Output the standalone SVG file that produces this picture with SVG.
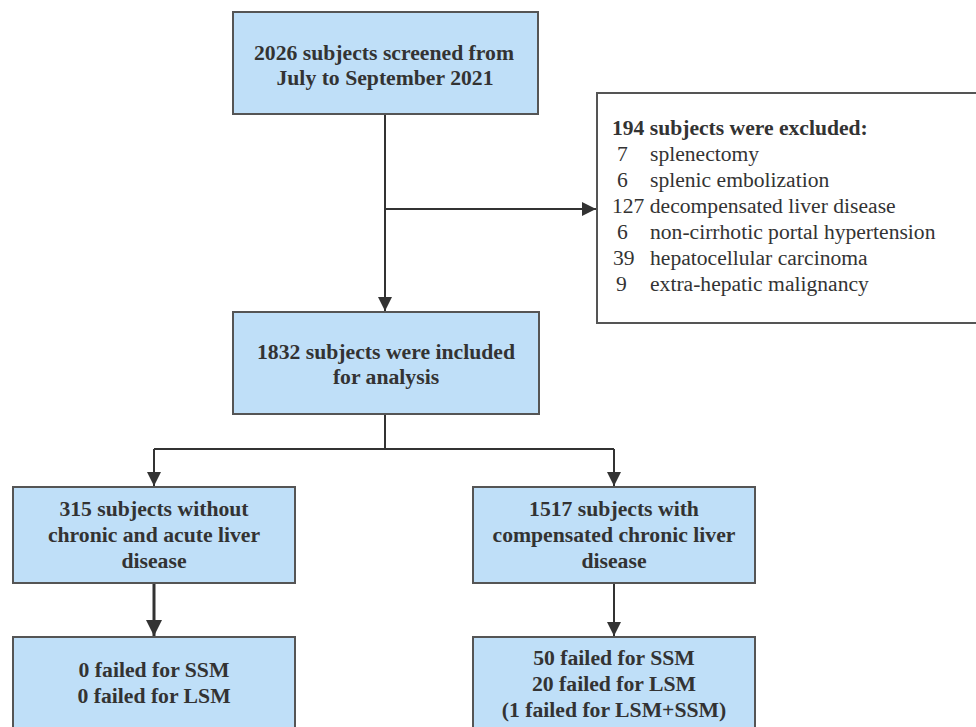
<svg xmlns="http://www.w3.org/2000/svg" width="976" height="727" viewBox="0 0 976 727">
<style>
.box{fill:#bfdff8;stroke:#555;stroke-width:2}
.ex{fill:#fff;stroke:#555;stroke-width:2}
.t{font-family:'Liberation Serif','Times New Roman',serif;font-weight:bold;font-size:21.7px;fill:#333;text-anchor:middle}
.e{font-family:'Liberation Serif','Times New Roman',serif;font-size:21.6px;fill:#333}
.c{fill:none;stroke:#333;stroke-width:2}
</style>
<defs>
<marker id="ah" markerUnits="userSpaceOnUse" markerWidth="14" markerHeight="16" refX="14" refY="7" orient="auto">
<path d="M0,0 L14,7 L0,14 Z" fill="#333"/>
</marker>
<marker id="ah2" markerUnits="userSpaceOnUse" markerWidth="16" markerHeight="18" refX="16" refY="8" orient="auto">
<path d="M0,0 L16,8 L0,16 Z" fill="#333"/>
</marker>
</defs>
<rect width="976" height="727" fill="#fff"/>
<g id="connectors">
<path class="c" d="M385,114 V311" marker-end="url(#ah)"/>
<path class="c" d="M385,209 H596" marker-end="url(#ah)"/>
<path class="c" d="M385,414 V449 M154,449 H614"/>
<path class="c" d="M154,449 V486" marker-end="url(#ah)"/>
<path class="c" d="M614,449 V486" marker-end="url(#ah)"/>
<path class="c" style="stroke-width:3" d="M154,583 V636" marker-end="url(#ah2)"/>
<path class="c" d="M614,583 V636" marker-end="url(#ah)"/>
</g>
<g id="screened">
<rect class="box" x="233" y="12" width="305" height="102"/>
<text class="t" x="384" y="60">2026 subjects screened from</text>
<text class="t" x="385" y="85">July to September 2021</text>
</g>
<g id="excluded">
<rect class="ex" x="597" y="93" width="400" height="230"/>
<text class="e" x="612" y="135" font-weight="bold">194 subjects were excluded:</text>
<text class="e" x="617" y="161">7</text><text class="e" x="650" y="161">splenectomy</text>
<text class="e" x="617" y="187">6</text><text class="e" x="650" y="187">splenic embolization</text>
<text class="e" x="612" y="213">127 decompensated liver disease</text>
<text class="e" x="617" y="239">6</text><text class="e" x="650" y="239">non-cirrhotic portal hypertension</text>
<text class="e" x="613" y="265">39</text><text class="e" x="650" y="265">hepatocellular carcinoma</text>
<text class="e" x="616" y="291">9</text><text class="e" x="650" y="291">extra-hepatic malignancy</text>
</g>
<g id="included">
<rect class="box" x="233" y="312" width="306" height="102"/>
<text class="t" x="386" y="359">1832 subjects were included</text>
<text class="t" x="386" y="384">for analysis</text>
</g>
<g id="without">
<rect class="box" x="13" y="487" width="282" height="96"/>
<text class="t" x="154" y="516">315 subjects without</text>
<text class="t" x="154" y="542">chronic and acute liver</text>
<text class="t" x="154" y="568">disease</text>
</g>
<g id="with">
<rect class="box" x="473" y="487" width="282" height="96"/>
<text class="t" x="614" y="516">1517 subjects with</text>
<text class="t" x="614" y="542">compensated chronic liver</text>
<text class="t" x="614" y="568">disease</text>
</g>
<g id="failed-left">
<rect class="box" x="13" y="637" width="282" height="100"/>
<text class="t" x="154" y="677">0 failed for SSM</text>
<text class="t" x="154" y="703">0 failed for LSM</text>
</g>
<g id="failed-right">
<rect class="box" x="473" y="637" width="282" height="100"/>
<text class="t" x="614" y="665">50 failed for SSM</text>
<text class="t" x="614" y="691">20 failed for LSM</text>
<text class="t" x="614" y="717">(1 failed for LSM+SSM)</text>
</g>
</svg>
